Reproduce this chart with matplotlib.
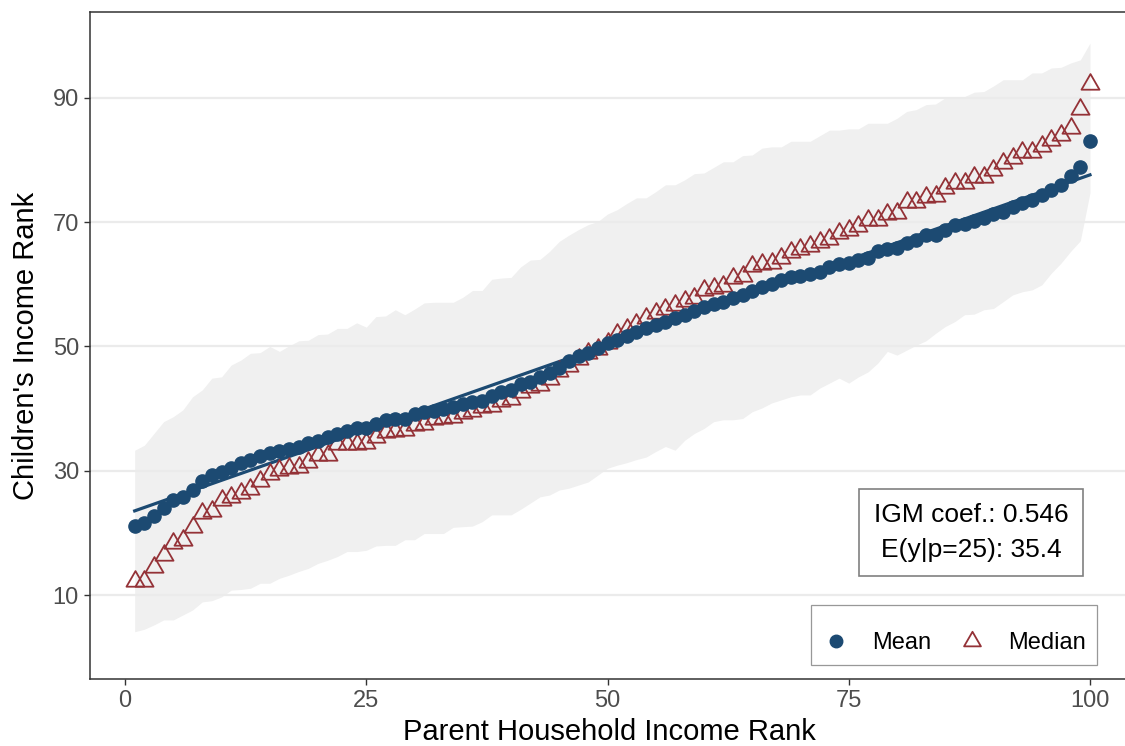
import numpy as np
import matplotlib.pyplot as plt
from matplotlib.lines import Line2D
from matplotlib.path import Path

plt.rcParams['font.family'] = ['Liberation Sans', 'DejaVu Sans']

# Parent income percentile rank (x) and children's outcomes (y)
parent_rank = np.arange(1, 101)

mean_rank = [
    21.1, 21.6, 22.7, 24.0, 25.3, 25.7, 26.9, 28.3, 29.3, 29.8,
    30.5, 31.2, 31.7, 32.3, 32.8, 33.1, 33.5, 33.9, 34.4, 34.8,
    35.4, 35.9, 36.4, 36.8, 36.8, 37.6, 38.2, 38.3, 38.3, 39.1,
    39.4, 39.6, 39.9, 40.3, 40.7, 41.1, 41.2, 42.1, 42.7, 43.0,
    43.9, 44.2, 45.1, 45.7, 46.5, 47.6, 48.4, 48.9, 49.7, 50.5,
    51.0, 51.6, 52.3, 52.9, 53.4, 54.0, 54.5, 55.1, 55.7, 56.3,
    56.8, 57.2, 57.8, 58.3, 58.9, 59.6, 60.1, 60.7, 61.1, 61.4,
    61.7, 62.0, 62.8, 63.3, 63.4, 63.9, 64.2, 65.3, 65.6, 65.8,
    66.6, 67.1, 67.9, 67.9, 68.8, 69.6, 69.7, 70.1, 70.6, 71.3,
    71.7, 72.5, 73.1, 73.5, 74.4, 75.2, 76.0, 77.4, 78.9, 83.1,
]

median_rank = [
    12.3, 12.3, 14.5, 16.4, 18.3, 18.9, 21.0, 23.2, 23.6, 25.3,
    25.7, 26.4, 27.1, 28.4, 29.5, 30.1, 30.4, 30.6, 31.4, 32.6,
    32.6, 34.3, 34.3, 34.3, 34.4, 35.4, 36.3, 36.4, 36.6, 37.3,
    37.6, 38.3, 38.5, 38.6, 39.3, 39.6, 40.2, 40.4, 41.3, 41.5,
    42.7, 43.4, 43.8, 44.7, 46.0, 46.9, 48.0, 49.0, 49.6, 50.5,
    52.0, 52.8, 53.6, 54.5, 55.4, 56.0, 56.6, 57.3, 57.8, 59.0,
    59.4, 59.8, 61.0, 61.4, 63.0, 63.2, 63.5, 64.2, 65.2, 65.6,
    66.2, 66.8, 67.3, 68.2, 68.8, 69.3, 70.3, 70.3, 71.3, 71.4,
    73.3, 73.3, 74.1, 74.2, 75.5, 76.3, 76.3, 77.3, 77.3, 78.4,
    79.5, 80.3, 81.2, 81.2, 82.2, 83.2, 84.0, 85.2, 88.2, 92.2,
]

band_low = [
    4.1, 4.5, 5.2, 6.0, 6.0, 6.8, 7.6, 8.9, 9.1, 9.7,
    10.8, 10.9, 11.1, 11.9, 11.9, 12.7, 13.2, 13.8, 14.3, 15.1,
    15.6, 16.2, 17.0, 17.0, 17.2, 17.9, 18.0, 18.0, 18.9, 18.9,
    19.9, 19.9, 19.9, 20.9, 21.0, 21.1, 21.8, 22.9, 22.9, 22.9,
    23.8, 24.8, 25.8, 26.1, 26.9, 27.2, 27.7, 28.2, 29.3, 30.4,
    30.9, 31.3, 31.8, 32.2, 33.1, 33.9, 33.3, 34.9, 36.0, 36.8,
    37.9, 38.2, 38.2, 38.4, 39.5, 40.1, 40.9, 41.4, 41.9, 42.2,
    42.2, 43.3, 44.1, 44.9, 44.1, 45.1, 45.9, 47.3, 49.2, 48.6,
    49.4, 50.2, 50.9, 52.1, 53.2, 54.0, 55.1, 55.2, 55.9, 56.1,
    57.2, 58.3, 58.8, 59.1, 59.9, 61.8, 63.4, 65.3, 67.0, 74.7,
]

band_high = [
    33.3, 34.1, 36.0, 37.9, 38.7, 39.8, 41.9, 43.0, 44.9, 45.1,
    47.0, 47.8, 48.9, 49.0, 50.0, 49.2, 50.1, 50.9, 51.0, 51.9,
    52.0, 52.9, 52.9, 53.8, 53.1, 54.8, 54.9, 55.9, 55.1, 56.0,
    57.0, 57.1, 57.1, 57.1, 57.9, 59.0, 59.0, 60.8, 61.0, 61.1,
    62.8, 63.9, 64.0, 65.3, 66.9, 67.9, 68.8, 69.6, 70.1, 71.3,
    72.0, 73.0, 73.9, 73.9, 74.9, 76.0, 76.0, 76.8, 77.8, 77.9,
    78.8, 79.7, 79.7, 80.7, 80.8, 81.9, 82.1, 82.1, 83.0, 83.0,
    83.0, 83.9, 84.8, 84.8, 85.0, 85.0, 85.9, 85.9, 85.9, 86.7,
    87.8, 88.1, 88.9, 89.0, 90.0, 90.0, 90.2, 90.9, 91.0, 91.9,
    92.9, 92.9, 92.9, 94.0, 94.0, 94.8, 94.9, 95.6, 96.1, 98.8,
]

igm_coef = 0.546
igm_intercept = 23.0
e_y_p25 = 35.4

mean_color = "#1C4A72"
median_color = "#943237"

# open triangle centred on its centroid
tri = Path([(-1, -0.577), (1, -0.577), (0, 1.155), (-1, -0.577)], closed=True)

fig = plt.figure(figsize=(11.25, 7.46), dpi=100)
ax = fig.add_axes([90 / 1125, 1 - 679 / 746, (1128 - 90) / 1125, (679 - 12) / 746])

# shaded band
ax.fill_between(parent_rank, band_low, band_high, color="#F0F0F0", lw=0, zorder=0.3)

# fitted line
fit_x = parent_rank[[0, -1]]
ax.plot(fit_x, igm_intercept + igm_coef * fit_x, color=mean_color, lw=2.3, zorder=2)

ax.plot(parent_rank, median_rank, ls='none', marker=tri, ms=15, mfc='none',
        mec=median_color, mew=1.3, zorder=3)
ax.plot(parent_rank, mean_rank, ls='none', marker='o', ms=9.5,
        color=mean_color, zorder=4)

ax.set_xlim(-3.63, 103.94)
ax.set_ylim(-3.5, 103.8)
ax.set_xticks([0, 25, 50, 75, 100])
ax.set_yticks([10, 30, 50, 70, 90])

ax.set_axisbelow(True)
ax.grid(axis='y', color='#EBEBEB', lw=1.6)
ax.grid(axis='x', visible=False)

for s in ax.spines.values():
    s.set_color('#333333')
    s.set_linewidth(1.1)

ax.tick_params(length=4, width=1, color='#333333', labelsize=17,
               labelcolor='#4D4D4D', pad=4)
ax.set_xlabel("Parent Household Income Rank", fontsize=21, labelpad=4)
ax.set_ylabel("Children's Income Rank", fontsize=21, labelpad=9)

# annotation box
ax.text(0.849, 0.2196, f"IGM coef.: {igm_coef:.3f}\nE(y|p=25): {e_y_p25:.1f}",
        transform=ax.transAxes, ha='center', va='center', fontsize=19,
        linespacing=1.57,
        bbox=dict(boxstyle='square,pad=0.55', fc='white', ec='#808080', lw=1.2))

# legend
handles = [
    Line2D([], [], ls='none', marker='o', color=mean_color, ms=9),
    Line2D([], [], ls='none', marker=tri, mfc='none', mec=median_color, ms=14, mew=1.3),
]
leg = ax.legend(handles, ['Mean', 'Median'], ncol=2, loc='lower right',
                bbox_to_anchor=(0.970, 0.021), borderaxespad=0,
                frameon=True, fancybox=False,
                edgecolor='#7F7F7F', fontsize=17, handlelength=1.2,
                handletextpad=0.95, columnspacing=1.1, borderpad=0.45,
                title=' ', title_fontsize=4)
leg.get_frame().set_linewidth(0.9)

fig.savefig("out.png", dpi=100)
